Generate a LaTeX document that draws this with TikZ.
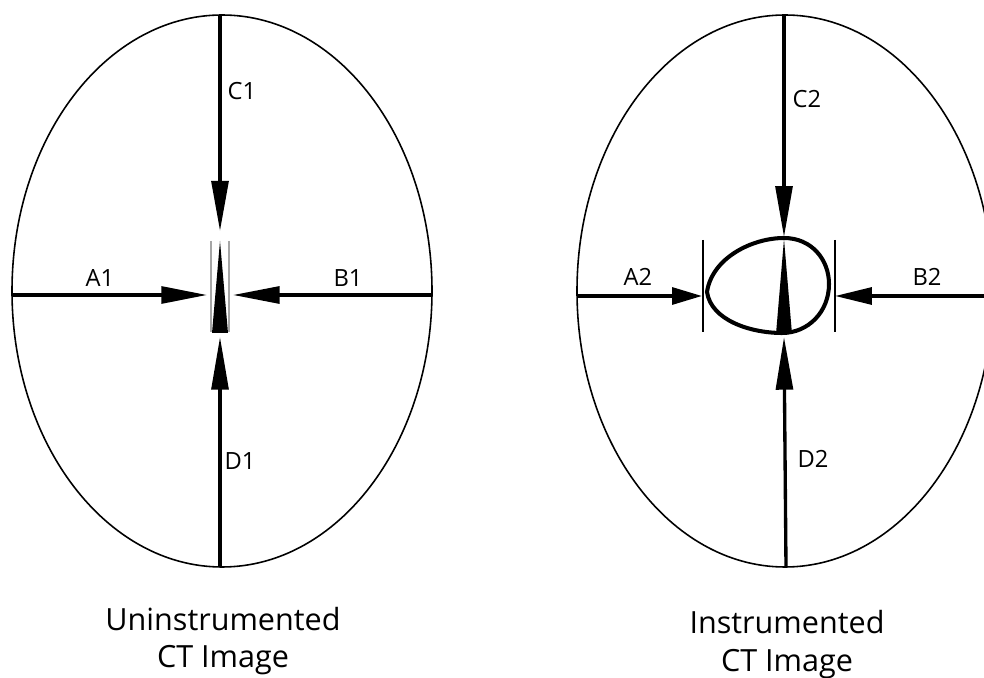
\documentclass[tikz,border=0pt]{standalone}
\usepackage{fontspec}
\setmainfont{Open Sans}
\usetikzlibrary{arrows.meta,positioning}

\tikzset{
  rim/.style={line width=0.9pt},
  ray/.style={line width=1.9pt, -{Triangle[length=#1, width=9.6pt]}},
  ray/.default=28pt,
  guide/.style={line width=0.7pt, draw=#1},
  guide/.default=black,
  wedge/.style={fill=black},
  egg/.style={line width=2.3pt},
  tag/.style={font=\fontsize{13.5}{16}\selectfont, anchor=base, inner sep=0pt},
  caption/.style={font=\fontsize{17.4}{21}\selectfont, anchor=base, inner sep=0pt},
}

\begin{document}
\begin{tikzpicture}[x=0.02cm, y=-0.02cm]
  \clip (0,0) rectangle (984,678);

  % Uninstrumented
  \draw[rim] (222,291) ellipse [x radius=210, y radius=276];
  \coordinate (a1) at (13,295);
  \coordinate (a1tip) at (207,295);
  \coordinate (b1) at (432,295);
  \coordinate (b1tip) at (233,295);
  \coordinate (c1) at (220,15);
  \coordinate (c1tip) at (220,231);
  \coordinate (d1) at (220,567);
  \coordinate (d1tip) at (220,337);
  \draw[ray=26pt] (a1) -- (a1tip);
  \draw[ray=26.5pt] (b1) -- (b1tip);
  \draw[ray=28.5pt] (c1) -- (c1tip);
  \draw[ray=30pt] (d1) -- (d1tip);
  \draw[guide=gray!70] (211,241) -- (211,332);
  \draw[guide=gray!70] (229,241) -- (229,332);
  \fill[wedge] (220,241) -- (212,333) -- (228,333) -- cycle;
  \node[tag] (la1) at (100,287) {A1};
  \node[tag] (lb1) at (348,287) {B1};
  \node[tag] (lc1) at (242,100) {C1};
  \node[tag] (ld1) at (240,470) {D1};
  \node[caption] (cap1a) at (223,630) {Uninstrumented};
  \node[caption] (cap1b) at (223,667) {CT Image};

  % Instrumented
  \draw[rim] (785,291) ellipse [x radius=208, y radius=276];
  \coordinate (a2) at (577,296);
  \coordinate (a2tip) at (702,296);
  \coordinate (b2) at (990,296);
  \coordinate (b2tip) at (835,296);
  \coordinate (c2) at (784,15);
  \coordinate (c2tip) at (784,237);
  \coordinate (d2) at (786,567);
  \coordinate (d2tip) at (784,337);
  \draw[ray=17pt] (a2) -- (a2tip);
  \draw[ray=21pt] (b2) -- (b2tip);
  \draw[ray=29pt] (c2) -- (c2tip);
  \draw[ray=30pt] (d2) -- (d2tip);
  \draw[guide] (703,240) -- (703,332);
  \draw[guide] (835,240) -- (835,332);
  \draw[egg] (707,292) .. controls (712,258) and (752,238) .. (784,238)
    .. controls (812,238) and (829,260) .. (829,284)
    .. controls (829,312) and (808,333) .. (782,333)
    .. controls (750,333) and (711,320) .. (707,292) -- cycle;
  \fill[wedge] (784,239) -- (776,334) -- (792,334) -- cycle;
  \node[tag] (la2) at (638,286) {A2};
  \node[tag] (lb2) at (927,286) {B2};
  \node[tag] (lc2) at (807,108) {C2};
  \node[tag] (ld2) at (813,468) {D2};
  \node[caption] (cap2a) at (787,634) {Instrumented};
  \node[caption] (cap2b) at (787,671) {CT Image};
\end{tikzpicture}
\end{document}
